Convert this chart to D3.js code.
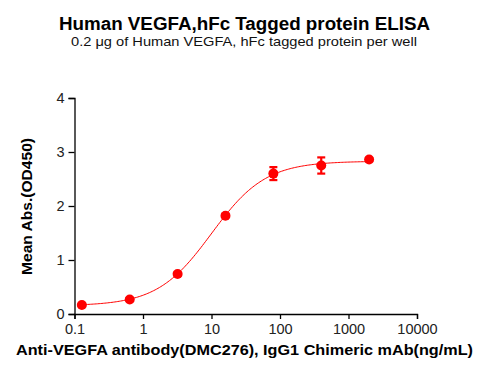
<!DOCTYPE html>
<html><head><meta charset="utf-8">
<script src="https://cdn.jsdelivr.net/npm/d3@7"></script>
<style>body{margin:0;background:#fff}svg{display:block}text{font-family:"Liberation Sans",Arial,sans-serif}</style>
</head><body><svg id="c" width="492" height="378"></svg>
<script>
const concentrations = [0.128, 0.64, 3.2, 16, 80, 400, 2000];
const meanOD = [0.167, 0.27, 0.74, 1.82, 2.60, 2.75, 2.86];
const errOD = [0.02, 0.02, 0.03, 0.03, 0.12, 0.15, 0.03];
const fitBottom = 0.15, fitTop = 2.83, fitEC50 = 10, fitHill = 1.1;
const xTicks = [0.1, 1, 10, 100, 1000, 10000];
const xTickLabels = ["0.1", "1", "10", "100", "1000", "10000"];
const yTicks = [0, 1, 2, 3, 4];

const svg = d3.select("#c");
const x = d3.scaleLog().domain([0.1, 10000]).range([74.5, 417]);
const y = d3.scaleLinear().domain([0, 4]).range([314, 98]);
const red = "#ff0000";

svg.append("text").attr("x", 244.5).attr("y", 30).attr("text-anchor", "middle")
  .attr("font-weight", "bold").attr("font-size", 17.5)
  .attr("textLength", 371).attr("lengthAdjust", "spacingAndGlyphs")
  .text("Human VEGFA,hFc Tagged protein ELISA");
svg.append("text").attr("x", 244).attr("y", 46).attr("text-anchor", "middle")
  .attr("font-size", 13.5).attr("fill", "#111")
  .attr("textLength", 346).attr("lengthAdjust", "spacingAndGlyphs")
  .text("0.2 \u03bcg of Human VEGFA, hFc tagged protein per well");

const xa = svg.append("g").attr("transform", "translate(0,314)")
  .call(d3.axisBottom(x).tickValues(xTicks).tickFormat((d, i) => xTickLabels[i]).tickSize(5).tickPadding(5));
const ya = svg.append("g").attr("transform", "translate(74.5,0)")
  .call(d3.axisLeft(y).tickValues(yTicks).tickFormat(d3.format("d")).tickSize(6).tickPadding(4));
[xa, ya].forEach(a => {
  a.select(".domain").attr("stroke", "#000").attr("stroke-width", 1.3);
  a.selectAll(".tick line").attr("stroke", "#000").attr("stroke-width", 1.3);
  a.selectAll("text").attr("font-size", 14.5).attr("fill", "#222").style("font-family", "Liberation Sans, Arial, sans-serif");
});

svg.append("text").attr("x", 244.5).attr("y", 355).attr("text-anchor", "middle")
  .attr("font-weight", "bold").attr("font-size", 15)
  .attr("textLength", 457).attr("lengthAdjust", "spacingAndGlyphs")
  .text("Anti-VEGFA antibody(DMC276), IgG1 Chimeric mAb(ng/mL)");
svg.append("text").attr("transform", "translate(32,206.5) rotate(-90)").attr("text-anchor", "middle")
  .attr("font-weight", "bold").attr("font-size", 15)
  .attr("textLength", 137).attr("lengthAdjust", "spacingAndGlyphs")
  .text("Mean Abs.(OD450)");

// 4PL fit curve
const lx0 = Math.log10(concentrations[0]), lx1 = Math.log10(concentrations[concentrations.length - 1]);
const curvePts = d3.range(0, 201).map(i => {
  const c = Math.pow(10, lx0 + (lx1 - lx0) * i / 200);
  return [c, fitBottom + (fitTop - fitBottom) / (1 + Math.pow(fitEC50 / c, fitHill))];
});
svg.append("path").datum(curvePts).attr("fill", "none").attr("stroke", red).attr("stroke-width", 1)
  .attr("d", d3.line().x(d => x(d[0])).y(d => y(d[1])));

const pts = concentrations.map((c, i) => ({c, m: meanOD[i], e: errOD[i]}));
const eb = svg.append("g").attr("stroke", red).attr("stroke-width", 2.2);
pts.forEach(p => {
  const cx = x(p.c);
  eb.append("line").attr("x1", cx).attr("x2", cx).attr("y1", y(p.m + p.e)).attr("y2", y(p.m - p.e));
  eb.append("line").attr("x1", cx - 4).attr("x2", cx + 4).attr("y1", y(p.m + p.e)).attr("y2", y(p.m + p.e));
  eb.append("line").attr("x1", cx - 4).attr("x2", cx + 4).attr("y1", y(p.m - p.e)).attr("y2", y(p.m - p.e));
});
svg.append("g").selectAll("circle").data(pts).join("circle")
  .attr("cx", d => x(d.c)).attr("cy", d => y(d.m)).attr("r", 5).attr("fill", red);
</script></body></html>
